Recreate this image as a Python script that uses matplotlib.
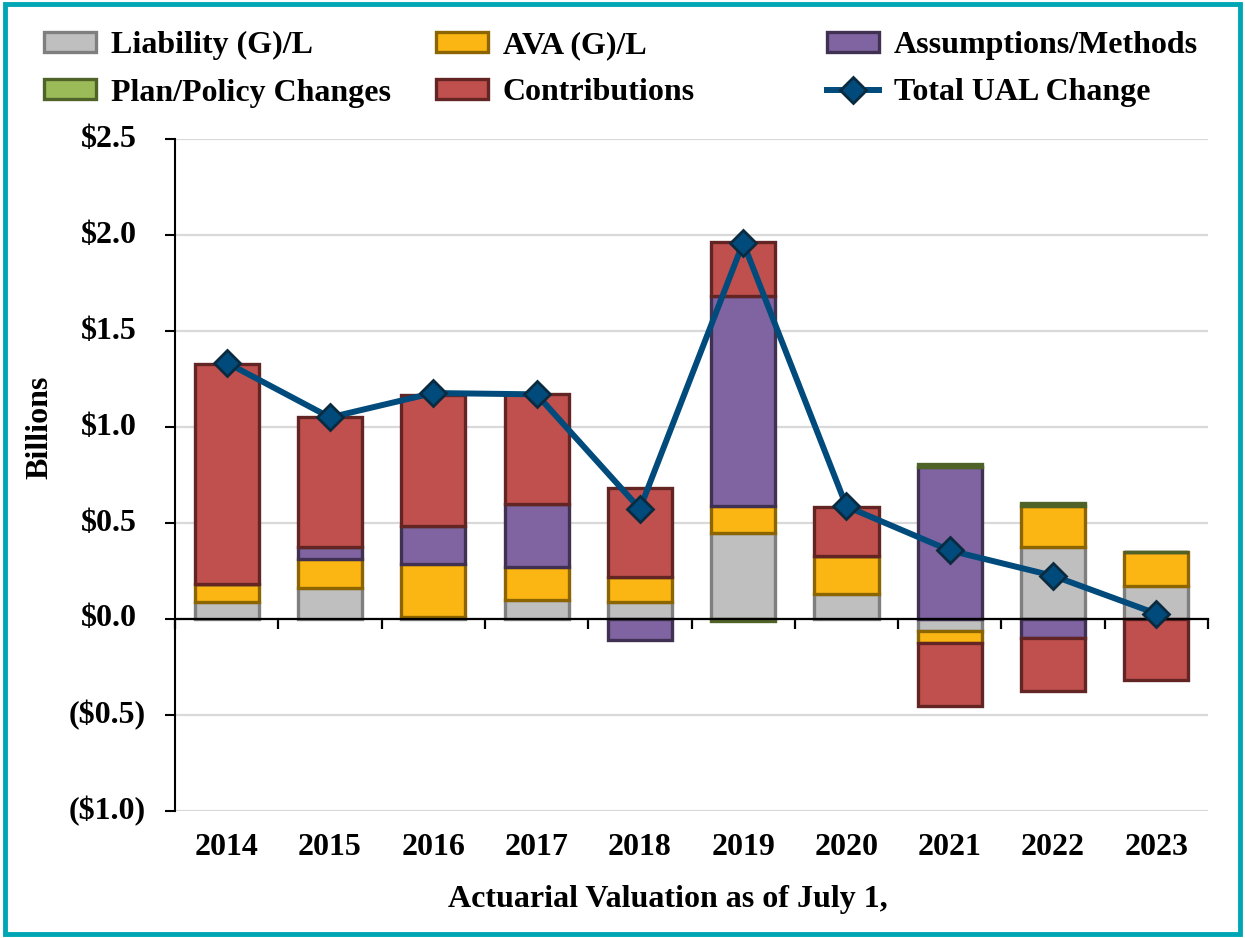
import numpy as np
import matplotlib
matplotlib.use("Agg")
import matplotlib.pyplot as plt
import matplotlib.transforms as mtransforms
from matplotlib.patches import Rectangle

years = ["2014", "2015", "2016", "2017", "2018", "2019", "2020", "2021", "2022", "2023"]
liability = [0.09, 0.16, 0.01, 0.10, 0.09, 0.45, 0.13, -0.065, 0.375, 0.17]
ava = [0.09, 0.155, 0.275, 0.17, 0.13, 0.14, 0.20, -0.06, 0.215, 0.18]
assumptions = [0.0, 0.06, 0.20, 0.33, -0.11, 1.09, 0.0, 0.79, -0.10, 0.0]
plan_policy = [0.0, 0.0, 0.0, 0.0, 0.0, -0.01, 0.0, 0.015, 0.015, 0.0]
contributions = [1.15, 0.675, 0.68, 0.57, 0.46, 0.285, 0.255, -0.33, -0.275, -0.32]
total_ual = [1.335, 1.05, 1.177, 1.17, 0.574, 1.96, 0.586, 0.357, 0.225, 0.028]

series_names = ["Liability (G)/L", "AVA (G)/L", "Assumptions/Methods",
                "Plan/Policy Changes", "Contributions"]
line_name = "Total UAL Change"
yticks = [-1.0, -0.5, 0.0, 0.5, 1.0, 1.5, 2.0, 2.5]
ytick_labels = ["($1.0)", "($0.5)", "$0.0", "$0.5", "$1.0", "$1.5", "$2.0", "$2.5"]

face_colors = ["#BFBFBF", "#FBB614", "#8064A2", "#9BBB59", "#C0504D"]
edge_colors = ["#7F7F7F", "#8C6400", "#403152", "#4F6228", "#632523"]
line_color = "#004B7B"

plt.rcParams['font.family'] = ['Liberation Serif', 'DejaVu Serif']
plt.rcParams['font.weight'] = 'bold'
FS = 23

fig = plt.figure(figsize=(12.45, 9.38), dpi=100)
ax = fig.add_axes([0.1406, 0.1354, 0.8297, 0.7164])

x = np.arange(len(years))
width = 0.62
pos_base = np.zeros(len(years))
neg_base = np.zeros(len(years))
all_series = [liability, ava, assumptions, plan_policy, contributions]
handles = {}
for vals, fc, ec, name in zip(all_series, face_colors, edge_colors, series_names):
    vals = np.array(vals)
    bottoms = np.where(vals >= 0, pos_base, neg_base)
    bc = ax.bar(x, vals, width=width, bottom=bottoms, color=fc, edgecolor=ec,
                linewidth=2.4, zorder=3, label=name)
    handles[name] = bc
    pos_base = pos_base + np.where(vals >= 0, vals, 0)
    neg_base = neg_base + np.where(vals < 0, vals, 0)

ln, = ax.plot(x, total_ual, color=line_color, linewidth=4.3, marker='D', markersize=13,
              markerfacecolor=line_color, markeredgecolor="#0A2A40", markeredgewidth=2,
              zorder=5, label=line_name)
handles[line_name] = ln

ax.set_xlim(-0.5, len(years) - 0.5)
ax.set_ylim(-1.0, 2.5)
ax.set_yticks(yticks)
ax.set_yticklabels([])
ax.yaxis.grid(True, color="#D9D9D9", linewidth=1.6, zorder=0)
ax.set_axisbelow(True)
ax.tick_params(axis='y', direction='out', length=7, width=1.5, color='black')

# y tick labels, right-aligned with accounting-style padding
ytrans = mtransforms.blended_transform_factory(ax.transAxes, ax.transData)
for val, lab in zip(yticks, ytick_labels):
    off = -29 if lab.endswith(")") else -38
    tr = mtransforms.offset_copy(ytrans, fig=fig, x=off, y=0, units='dots')
    ax.text(0, val, lab, transform=tr, ha='right', va='center', fontsize=FS,
            fontweight='bold')

for s in ['top', 'right']:
    ax.spines[s].set_visible(False)
ax.spines['left'].set_linewidth(1.5)
ax.spines['bottom'].set_position(('data', 0))
ax.spines['bottom'].set_linewidth(1.6)
ax.spines['bottom'].set_zorder(4)
ax.set_xticks(np.arange(-0.5, len(years), 1.0))
ax.set_xticklabels([])
ax.tick_params(axis='x', direction='out', length=7, width=1.6)

for xi, lab in zip(x, years):
    ax.text(xi, -0.055, lab, transform=ax.get_xaxis_transform(), ha='center', va='center',
            fontsize=FS, fontweight='bold')

fig.text(0.032, 0.544, "Billions", rotation=90, ha='center', va='center',
         fontsize=FS, fontweight='bold')
fig.text(0.5365, 0.041, "Actuarial Valuation as of July 1,", ha='center', va='center',
         fontsize=FS, fontweight='bold')

# legend: three equally spaced columns of two rows
columns = [[series_names[0], series_names[3]],
           [series_names[1], series_names[4]],
           [series_names[2], line_name]]
col_x = [0.035, 0.350, 0.664]
for cx, names in zip(col_x, columns):
    leg = fig.legend([handles[n] for n in names], names, loc='upper left',
                     bbox_to_anchor=(cx, 0.967), ncol=1, frameon=False,
                     fontsize=23, handlelength=1.65, handleheight=0.57,
                     labelspacing=0.58, handletextpad=0.45, borderpad=0,
                     borderaxespad=0)
    for t in leg.get_texts():
        t.set_fontweight('bold')

fig.patches.append(Rectangle((0.004, 0.004), 0.992, 0.992, transform=fig.transFigure,
                             fill=False, edgecolor="#00A6B4", linewidth=3.5))

fig.savefig("out.png", dpi=100)
